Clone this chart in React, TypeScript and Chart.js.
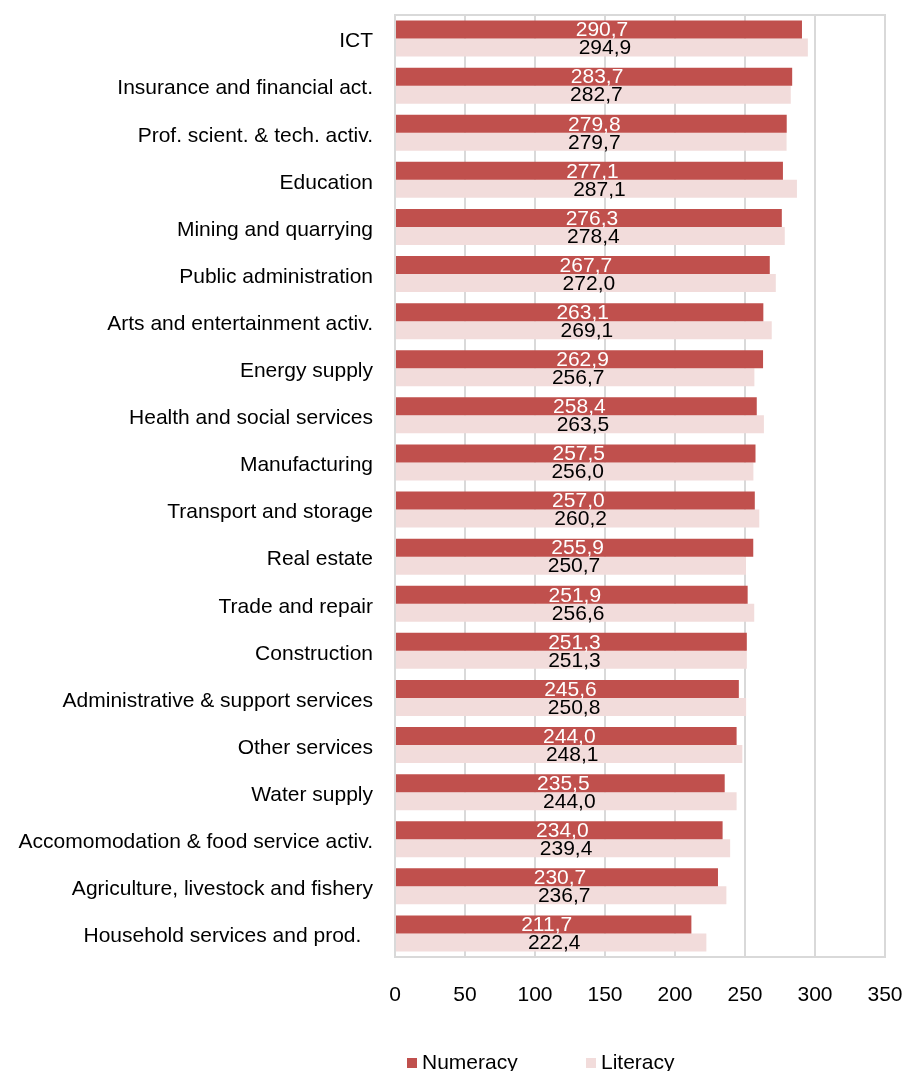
import React, { useEffect, useRef } from "react";
import { Chart, registerables } from "chart.js";

Chart.register(...registerables);

const categories = [
  "ICT",
  "Insurance and financial act.",
  "Prof. scient. & tech. activ.",
  "Education",
  "Mining and quarrying",
  "Public administration",
  "Arts and entertainment activ.",
  "Energy supply",
  "Health and social services",
  "Manufacturing",
  "Transport and storage",
  "Real estate",
  "Trade and repair",
  "Construction",
  "Administrative & support services",
  "Other services",
  "Water supply",
  "Accomomodation & food service activ.",
  "Agriculture, livestock and fishery",
  "Household services and prod.  ",
];

const numeracy = [
  290.7, 283.7, 279.8, 277.1, 276.3, 267.7, 263.1, 262.9, 258.4, 257.5, 257.0,
  255.9, 251.9, 251.3, 245.6, 244.0, 235.5, 234.0, 230.7, 211.7,
];

const literacy = [
  294.9, 282.7, 279.7, 287.1, 278.4, 272.0, 269.1, 256.7, 263.5, 256.0, 260.2,
  250.7, 256.6, 251.3, 250.8, 248.1, 244.0, 239.4, 236.7, 222.4,
];

const xTicks = [0, 50, 100, 150, 200, 250, 300, 350];

const FONT = '"Liberation Sans", Arial, sans-serif';
const FONT_SIZE = 21;
const NUM_COLOR = "#C0504D";
const LIT_COLOR = "#F2DCDB";
const GRID = "#D9D9D9";

const fmt = (v: number) => v.toFixed(1).replace(".", ",");

const labelPlugin = {
  id: "valueLabels",
  afterDatasetsDraw(chart: any) {
    const ctx = chart.ctx;
    ctx.save();
    ctx.font = `${FONT_SIZE}px ${FONT}`;
    ctx.textAlign = "center";
    ctx.textBaseline = "middle";
    chart.data.datasets.forEach((ds: any, di: number) => {
      const meta = chart.getDatasetMeta(di);
      ctx.fillStyle = di === 0 ? "#FFFFFF" : "#000000";
      meta.data.forEach((bar: any, i: number) => {
        const cx = (bar.x + bar.base) / 2 + 3;
        ctx.fillText(fmt(ds.data[i]), cx, bar.y + 1);
      });
    });
    ctx.restore();
  },
};

const boxPlugin = {
  id: "plotBox",
  afterDraw(chart: any) {
    const { ctx, chartArea } = chart;
    ctx.save();
    ctx.strokeStyle = GRID;
    ctx.lineWidth = 2;
    ctx.strokeRect(
      chartArea.left,
      chartArea.top,
      chartArea.right - chartArea.left,
      chartArea.bottom - chartArea.top
    );
    ctx.restore();
  },
};

const legendPlugin = {
  id: "customLegend",
  afterDraw(chart: any) {
    const ctx = chart.ctx;
    ctx.save();
    ctx.font = `${FONT_SIZE}px ${FONT}`;
    ctx.textBaseline = "middle";
    ctx.textAlign = "left";
    const items = [
      { label: "Numeracy", color: NUM_COLOR, x: 399 },
      { label: "Literacy", color: LIT_COLOR, x: 578 },
    ];
    const y = 1055;
    items.forEach((it) => {
      ctx.fillStyle = it.color;
      ctx.fillRect(it.x, y - 5, 10, 10);
      ctx.fillStyle = "#000000";
      ctx.fillText(it.label, it.x + 15, y);
    });
    ctx.restore();
  },
};

export default function App() {
  const ref = useRef<HTMLCanvasElement | null>(null);

  useEffect(() => {
    if (!ref.current) return;
    const chart = new Chart(ref.current, {
      type: "bar",
      data: {
        labels: categories,
        datasets: [
          {
            label: "Numeracy",
            data: numeracy,
            backgroundColor: NUM_COLOR,
            categoryPercentage: 0.764,
            barPercentage: 1,
          },
          {
            label: "Literacy",
            data: literacy,
            backgroundColor: LIT_COLOR,
            categoryPercentage: 0.764,
            barPercentage: 1,
          },
        ],
      },
      options: {
        indexAxis: "y",
        responsive: false,
        animation: false,
        maintainAspectRatio: false,
        layout: { padding: { top: 7, right: 21, bottom: 60, left: 0 } },
        plugins: {
          legend: { display: false },
          tooltip: { enabled: false },
        },
        scales: {
          x: {
            min: 0,
            max: 350,
            afterBuildTicks: (scale: any) => {
              scale.ticks = xTicks.map((v) => ({ value: v }));
            },
            afterFit: (scale: any) => {
              scale.height = 54;
              scale.paddingLeft = 0;
              scale.paddingRight = 0;
              scale.paddingTop = 0;
              scale.paddingBottom = 0;
            },
            grid: {
              color: GRID,
              lineWidth: 2,
              drawTicks: false,
            },
            border: { display: false },
            ticks: {
              color: "#000000",
              padding: 26,
              font: { family: FONT, size: FONT_SIZE },
              maxRotation: 0,
            },
          },
          y: {
            afterFit: (scale: any) => {
              scale.width = 387;
              scale.paddingLeft = 0;
              scale.paddingRight = 0;
              scale.paddingTop = 0;
              scale.paddingBottom = 0;
            },
            grid: { display: false, drawTicks: false },
            border: { display: false },
            ticks: {
              color: "#000000",
              padding: 22,
              labelOffset: 3,
              font: { family: FONT, size: FONT_SIZE },
              autoSkip: false,
            },
          },
        },
      },
      plugins: [boxPlugin, labelPlugin, legendPlugin],
    } as any);
    return () => chart.destroy();
  }, []);

  return (
    <div style={{ width: 898, height: 1063 }}>
      <canvas ref={ref} width={898} height={1063} style={{ display: "block" }} />
    </div>
  );
}
